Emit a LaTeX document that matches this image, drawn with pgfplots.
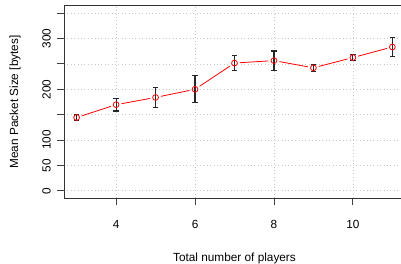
\documentclass[border=0pt]{standalone}
\usepackage{fontspec}
\setmainfont{Liberation Sans}
\usepackage{pgfplots}
\pgfplotsset{compat=1.18}
\pgfplotstableread{
x y
3 144.5
4 169.7
5 184
6 200
7 251.7
8 256.5
9 242.3
10 262.5
11 283.3
}\data
\pgfplotstableread{
x v
3 139
3 150
3 nan
4 157.2
4 182.2
4 nan
5 165
5 203
5 nan
6 173.5
6 226.5
6 nan
7 237.7
7 265.7
7 nan
8 237.5
8 275.5
8 nan
9 235.8
9 248.8
9 nan
10 256
10 269
10 nan
11 264.8
11 301.8
}\bars
\begin{document}
\fontsize{11.8bp}{14bp}\selectfont
\begin{tikzpicture}
\begin{axis}[
  at={(0,0)}, anchor=south west,
  scale only axis, width=341bp, height=192bp,
  xmin=2.68, xmax=11.32, ymin=-14, ymax=364,
  xtick={4,6,8,10}, ytick={0,50,100,150,200,250,300,350},
  yticklabels={0,50,100,,200,,300,},
  /pgf/number format/assume math mode=true,
  tick align=outside, major tick length=7bp,
  xtick pos=left, ytick pos=left,
  tick style={black!75, line width=0.9bp},
  axis line style={black!80, line width=1bp},
  grid=major, grid style={black!22, line width=0.8bp, dash pattern=on 0.8bp off 2.6bp},
  xticklabel style={anchor=center, yshift=-19bp},
  yticklabel style={rotate=90, anchor=center, yshift=10.5bp},
  xlabel={Total number of players},
  ylabel={Mean Packet Size [bytes]},
  every axis x label/.style={at={(axis description cs:0.5,-0.3125)}, anchor=center},
  every axis y label/.style={at={(axis description cs:-0.1437,0.5)}, rotate=90, anchor=center},
  clip=false, unbounded coords=jump,
  seg/.style={red, line width=0.8bp, no marks, shorten >=5.5bp, shorten <=5.5bp},
]
\addplot[seg] coordinates {(3,144.5) (4,169.7)};
\addplot[seg] coordinates {(4,169.7) (5,184)};
\addplot[seg] coordinates {(5,184) (6,200)};
\addplot[seg] coordinates {(6,200) (7,251.7)};
\addplot[seg] coordinates {(7,251.7) (8,256.5)};
\addplot[seg] coordinates {(8,256.5) (9,242.3)};
\addplot[seg] coordinates {(9,242.3) (10,262.5)};
\addplot[seg] coordinates {(10,262.5) (11,283.3)};
\addplot[black!85, line width=1.1bp, mark=-, mark size=2.6bp, mark options={solid, line width=1.1bp}] table[x=x,y=v] {\bars};
\addplot[red, only marks, mark=o, mark size=2.9bp, mark options={line width=0.8bp, red}] table[x=x,y=y] {\data};
\end{axis}
\pgfresetboundingbox
\useasboundingbox (-64bp,-66bp) rectangle (337bp,198bp);
\end{tikzpicture}
\end{document}
